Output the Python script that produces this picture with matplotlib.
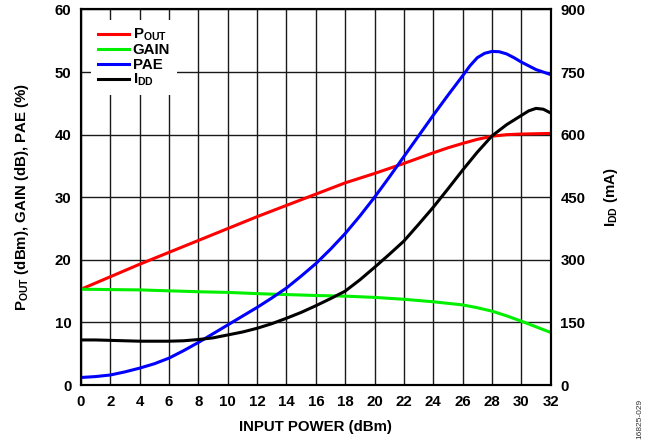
import matplotlib
matplotlib.use("Agg")
import matplotlib.pyplot as plt

plt.rcParams['font.family'] = ['Liberation Sans', 'DejaVu Sans']
plt.rcParams['font.weight'] = 'bold'
plt.rcParams['mathtext.default'] = 'regular'

input_power = list(range(0, 33))
pout = [15.3, 16.3, 17.3, 18.3, 19.3, 20.25, 21.2, 22.15, 23.1, 24.05, 25.0, 25.95, 26.9, 27.8, 28.7,
        29.6, 30.5, 31.4, 32.3, 33.05, 33.8, 34.6, 35.4, 36.25, 37.1, 37.9, 38.6, 39.25, 39.75, 40.0,
        40.1, 40.15, 40.2]
gain = [15.3, 15.28, 15.25, 15.22, 15.2, 15.12, 15.05, 14.98, 14.9, 14.85, 14.8, 14.7, 14.6, 14.52,
        14.45, 14.38, 14.3, 14.25, 14.2, 14.1, 14.0, 13.85, 13.7, 13.5, 13.3, 13.05, 12.8, 12.35,
        11.8, 11.05, 10.2, 9.3, 8.4]
pae_x = [0, 1, 2, 3, 4, 5, 6, 7, 8, 9, 10, 11, 12, 13, 14, 15, 16, 17, 18, 19, 20, 21, 22, 23, 24,
         25, 26, 26.5, 27, 27.5, 28, 28.5, 29, 29.5, 30, 30.5, 31, 31.5, 32]
pae = [1.2, 1.35, 1.6, 2.1, 2.7, 3.4, 4.3, 5.5, 6.8, 8.2, 9.6, 11.0, 12.4, 13.9, 15.5, 17.4, 19.4,
       21.7, 24.2, 27.0, 30.0, 33.2, 36.5, 39.8, 43.1, 46.3, 49.4, 51.0, 52.3, 53.0, 53.3, 53.25,
       52.9, 52.3, 51.6, 51.0, 50.4, 50.0, 49.6]
idd_x = [0, 1, 2, 3, 4, 5, 6, 7, 8, 9, 10, 11, 12, 13, 14, 15, 16, 17, 18, 19, 20, 21, 22, 23, 24,
         25, 26, 27, 28, 29, 30, 30.5, 31, 31.5, 32]
idd = [108, 108, 107, 106, 105, 105, 105, 106, 109, 113, 120, 127, 136, 147, 160, 174, 190, 207,
       225, 252, 282, 313, 345, 385, 426, 470, 515, 558, 597, 624, 646, 657, 663, 661, 652]

x_ticks = list(range(0, 33, 2))
left_ticks = [0, 10, 20, 30, 40, 50, 60]
right_ticks = [0, 150, 300, 450, 600, 750, 900]

fig = plt.figure(figsize=(6.52, 4.48), dpi=100)
ax = fig.add_axes([0.1242, 0.1406, 0.7204, 0.8382])
ax2 = ax.twinx()

fs = 10.8
ax.set_xlim(0, 32)
ax.set_ylim(0, 60)
ax2.set_ylim(0, 900)
ax.set_xticks(x_ticks)
ax.set_yticks(left_ticks)
ax2.set_yticks(right_ticks)
ax.grid(True, color='#1a1a1a', linewidth=1.0)
ax.set_axisbelow(True)

for a in (ax, ax2):
    a.tick_params(direction='in', length=0, labelsize=fs, pad=7)
    for s in a.spines.values():
        s.set_linewidth(1.5)
        s.set_color('black')
for lab in ax.get_xticklabels() + ax.get_yticklabels() + ax2.get_yticklabels():
    lab.set_fontweight('bold')

l1, = ax.plot(input_power, pout, color='#ff0000', lw=2.2, label=r'P$_{OUT}$', solid_joinstyle='round')
l2, = ax.plot(input_power, gain, color='#00f000', lw=2.2, label='GAIN', solid_joinstyle='round')
l3, = ax.plot(pae_x, pae, color='#0000ff', lw=2.2, label='PAE', solid_joinstyle='round')
l4, = ax2.plot(idd_x, idd, color='black', lw=2.2, label=r'I$_{DD}$', solid_joinstyle='round')

leg = ax2.legend(handles=[l1, l2, l3, l4], loc='upper left', bbox_to_anchor=(0.021, 0.972),
                 borderaxespad=0, frameon=True, fancybox=False, framealpha=1,
                 edgecolor='none', facecolor='white', fontsize=fs,
                 handlelength=2.1, handletextpad=0.25, labelspacing=0.02, borderpad=0.45)
for t in leg.get_texts():
    t.set_fontweight('bold')

ax.set_xlabel('INPUT POWER (dBm)', fontsize=fs, fontweight='bold', labelpad=8)
ax.set_ylabel(r'P$_{OUT}$ (dBm), GAIN (dB), PAE (%)', fontsize=fs, fontweight='bold', labelpad=17)
ax2.set_ylabel(r'I$_{DD}$ (mA)', fontsize=fs, fontweight='bold', labelpad=12)

fig.text(0.981, 0.02, '16825-029', rotation=90, fontsize=6, fontweight='normal',
         ha='center', va='bottom', color='#333333')

fig.savefig('out.png', dpi=100)
